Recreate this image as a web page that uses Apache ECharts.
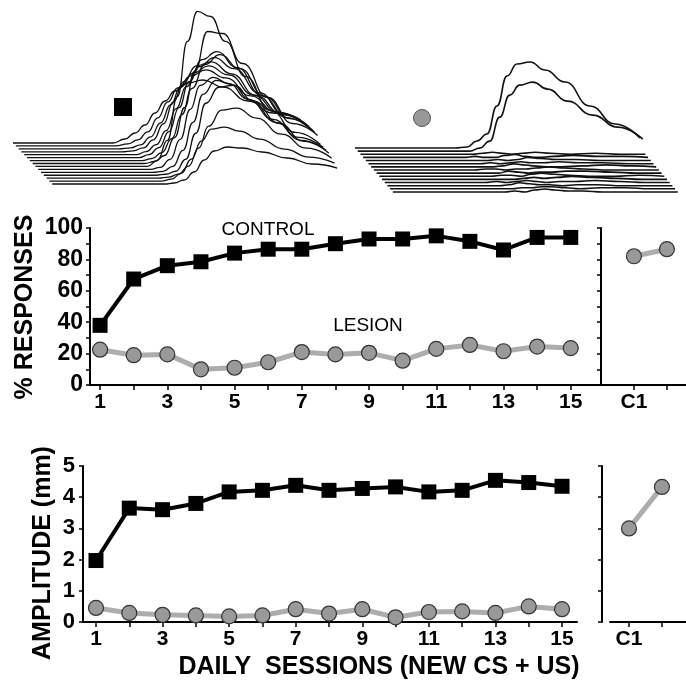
<!DOCTYPE html>
<html><head><meta charset="utf-8">
<script src="https://cdn.jsdelivr.net/npm/echarts@6/dist/echarts.min.js"></script>
<style>html,body{margin:0;padding:0;background:#fff}#c{width:686px;height:690px}</style>
</head><body><div id="c"></div>
<script>
// ---------- data ----------
const sessions = [1,2,3,4,5,6,7,8,9,10,11,12,13,14,15];
const oddLabels = [1,3,5,7,9,11,13,15];
const c1Ticks = [1,2];
const c1Labels = ['C1'];
const respControl = [38,67.5,76,78.5,84,86.5,86.5,90,93,93,95,91.5,86,94,94];
const respLesion  = [22.5,19,19.5,10,11,14.5,21,19.5,20.5,15.5,23,25.5,21.5,24.5,23.5];
const respLesionC1 = [82,86.5];
const ampControl = [1.97,3.65,3.6,3.8,4.17,4.22,4.38,4.22,4.28,4.33,4.17,4.22,4.54,4.47,4.35];
const ampLesion  = [0.45,0.29,0.23,0.21,0.18,0.21,0.41,0.27,0.41,0.15,0.32,0.34,0.29,0.5,0.41];
const ampLesionC1 = [3.0,4.33];
const respTicks = [0,20,40,60,80,100];
const ampTicks = [0,1,2,3,4,5];

// eyeblink traces (sample times and amplitudes, arbitrary units)
const traceT = [0,100,112,122,132,142,152,162,175,190,210,235,260,285];
const ctlTraces = [
  [0,0,4,10,18,30,42,52,60,63,56,42,30,24],
  [0,0,2,6,14,28,44,58,70,76,68,50,34,26],
  [0,0,1,4,12,26,44,62,76,83,74,54,36,26],
  [0,0,1,4,12,28,50,70,86,90,78,56,38,27],
  [0,0,0,3,10,24,46,68,88,97,86,62,40,28],
  [0,0,0,3,10,26,50,76,98,106,90,62,40,27],
  [0,0,0,2,8,22,46,72,96,106,92,64,42,28],
  [0,0,0,2,8,26,56,92,132,130,100,66,40,28],
  [0,0,0,6,26,70,125,155,150,125,90,56,34,22],
  [0,0,0,2,10,30,60,84,92,86,70,50,32,22],
  [0,0,0,1,6,22,50,78,92,88,72,50,32,22],
  [0,0,0,1,4,16,42,72,88,90,74,52,34,22],
  [0,0,0,1,4,12,30,52,68,70,60,44,30,20],
  [0,0,0,2,8,22,40,52,54,50,42,32,24,18],
  [0,0,0,1,4,12,24,33,37,36,32,26,20,16]
];
const lesTraces = [
  [0,0,1,7,14,42,72,84,86,78,66,42,24,10],
  [0,0,0,3,10,34,56,66,69,62,50,36,24,12],
  [0,0,0,1,2,1,0,1,2,1,0,1,0,0],
  [0,0,1,0,0,2,3,1,0,1,2,1,1,0],
  [0,0,0,0,1,0,1,3,2,1,1,0,0,0],
  [0,0,0,1,0,1,2,1,1,2,1,1,0,0],
  [0,0,0,0,1,3,2,1,0,0,1,2,1,0],
  [0,0,1,1,0,1,1,2,3,2,1,0,0,0],
  [0,0,0,0,2,1,0,1,1,2,2,1,0,0],
  [0,0,0,1,1,0,2,3,2,1,0,0,1,0],
  [0,0,0,0,0,1,2,1,2,3,2,1,0,0],
  [0,0,1,0,1,2,1,0,1,1,2,1,0,0],
  [0,0,0,1,3,2,1,1,0,1,1,0,0,0],
  [0,0,0,0,1,1,2,2,1,0,1,1,0,0],
  [0,0,0,1,0,2,3,2,1,1,0,0,0,0]
];

// ---------- layout ----------
const LAY_L = {x0:13, dx:2.8, y0:143, dy:2.93, w:1.3};
const LAY_R = {x0:355, dx:2.7, y0:148, dy:3.14, w:1.6};
const FONT = 'Liberation Sans, Arial, sans-serif';

function traceSeries(traces, lay){
  return traces.map((tr, i) => ({
    type:'line', xAxisIndex:0, yAxisIndex:0, silent:true,
    data: tr.map((a, k) => [lay.x0 + i*lay.dx + traceT[k], lay.y0 + i*lay.dy - a]),
    showSymbol:false, smooth:0.5, smoothMonotone:'x',
    lineStyle:{color:'#111', width:lay.w}, z:1
  }));
}
const pair = (xs, ys) => xs.map((x,i)=>[x, ys[i]]);

const axisLineStyle = {show:true, onZero:false, lineStyle:{color:'#000', width:2}};
const tickStyle = {show:true, inside:false, length:5, lineStyle:{color:'#000', width:1.5}};
const labelStyle = {color:'#000', fontFamily:FONT, fontWeight:'bold', fontSize:21};

function xLeft(grid, min, max){
  return {type:'value', gridIndex:grid, min, max, axisLine:axisLineStyle,
    axisTick:Object.assign({}, tickStyle, {customValues:sessions}),
    axisLabel:Object.assign({}, labelStyle, {customValues:oddLabels, margin:7}),
    splitLine:{show:false}};
}
function xRight(grid, min, max){
  return {type:'value', gridIndex:grid, min, max, axisLine:axisLineStyle,
    axisTick:Object.assign({}, tickStyle, {customValues:c1Ticks}),
    axisLabel:Object.assign({}, labelStyle, {customValues:[1], margin:7, formatter:()=>c1Labels[0]}),
    splitLine:{show:false}};
}

const ctlStyle = {type:'line', symbol:'rect', symbolSize:15, itemStyle:{color:'#000'},
  lineStyle:{color:'#000', width:4}, z:4};
const lesStyle = {type:'line', symbol:'circle', symbolSize:15,
  itemStyle:{color:'#999', borderColor:'#333', borderWidth:1.2},
  lineStyle:{color:'#adadad', width:5}, z:3};

const option = {
  animation:false, backgroundColor:'#fff',
  grid:[
    {left:0, top:0, width:686, height:200},
    {left:90, top:228, width:511, height:157},
    {left:601, top:228, width:85, height:157},
    {left:83, top:466, width:494, height:156},
    {left:610, top:466, width:76, height:156}
  ],
  xAxis:[
    {type:'value', gridIndex:0, min:0, max:686, show:false},
    xLeft(1, 0.7, 15.9),
    xRight(2, 0, 2.58),
    xLeft(3, 0.61, 15.45),
    xRight(4, 0.424, 2.73)
  ],
  yAxis:[
    {type:'value', gridIndex:0, min:0, max:200, inverse:true, show:false},
    {type:'value', gridIndex:1, min:0, max:100, interval:10, axisLine:axisLineStyle,
      axisTick:Object.assign({}, tickStyle, {length:4}),
      axisLabel:Object.assign({}, labelStyle, {fontSize:23, margin:7, formatter:v=>respTicks.includes(v)?String(v):''}),
      splitLine:{show:false}},
    {type:'value', gridIndex:2, min:0, max:100, interval:10, axisLine:axisLineStyle,
      axisTick:Object.assign({}, tickStyle, {length:4}), axisLabel:{show:false}, splitLine:{show:false}},
    {type:'value', gridIndex:3, min:0, max:5, interval:1, axisLine:axisLineStyle,
      axisTick:Object.assign({}, tickStyle, {length:4}),
      axisLabel:Object.assign({}, labelStyle, {fontSize:22, margin:8, formatter:v=>ampTicks.includes(v)?String(v):''}),
      splitLine:{show:false}},
    {type:'value', gridIndex:4, min:0, max:5, interval:1, offset:8, axisLine:axisLineStyle,
      axisTick:Object.assign({}, tickStyle, {length:4}), axisLabel:{show:false}, splitLine:{show:false}}
  ],
  series:[
    ...traceSeries(ctlTraces, LAY_L),
    ...traceSeries(lesTraces, LAY_R),
    {type:'scatter', xAxisIndex:0, yAxisIndex:0, symbol:'rect', symbolSize:18,
      itemStyle:{color:'#000', opacity:1}, data:[[123,107]], silent:true},
    {type:'scatter', xAxisIndex:0, yAxisIndex:0, symbol:'circle', symbolSize:17,
      itemStyle:{color:'#999', borderColor:'#555', borderWidth:1, opacity:1}, data:[[422,118]], silent:true},
    Object.assign({}, lesStyle, {xAxisIndex:1, yAxisIndex:1, data:pair(sessions, respLesion)}),
    Object.assign({}, ctlStyle, {xAxisIndex:1, yAxisIndex:1, data:pair(sessions, respControl)}),
    Object.assign({}, lesStyle, {xAxisIndex:2, yAxisIndex:2, data:pair(c1Ticks, respLesionC1)}),
    Object.assign({}, lesStyle, {xAxisIndex:3, yAxisIndex:3, data:pair(sessions, ampLesion)}),
    Object.assign({}, ctlStyle, {xAxisIndex:3, yAxisIndex:3, data:pair(sessions, ampControl)}),
    Object.assign({}, lesStyle, {xAxisIndex:4, yAxisIndex:4, data:pair(c1Ticks, ampLesionC1)})
  ],
  graphic:[
    {type:'text', x:268, y:230, style:{text:'CONTROL', font:'19px '+FONT, fill:'#000', align:'center', verticalAlign:'middle'}},
    {type:'text', x:368, y:326, style:{text:'LESION', font:'19px '+FONT, fill:'#000', align:'center', verticalAlign:'middle'}},
    {type:'text', x:25, y:307, rotation:Math.PI/2, style:{text:'% RESPONSES', font:'bold 25px '+FONT, fill:'#000', align:'center', verticalAlign:'middle'}},
    {type:'text', x:43, y:553, rotation:Math.PI/2, style:{text:'AMPLITUDE (mm)', font:'bold 25px '+FONT, fill:'#000', align:'center', verticalAlign:'middle'}},
    {type:'text', x:379, y:667, style:{text:'DAILY  SESSIONS (NEW CS + US)', font:'bold 25px '+FONT, fill:'#000', align:'center', verticalAlign:'middle'}}
  ]
};
const chart = echarts.init(document.getElementById('c'), null, {renderer:'canvas'});
chart.setOption(option);
</script></body></html>
